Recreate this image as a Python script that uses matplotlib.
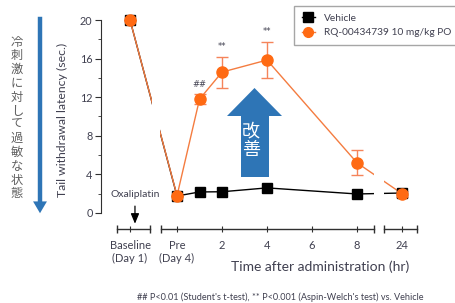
import numpy as np
import matplotlib
matplotlib.use("Agg")
import matplotlib.pyplot as plt
from matplotlib.lines import Line2D
from matplotlib.patches import Polygon

plt.rcParams['font.family'] = ['Lato', 'Noto Sans CJK JP', 'DejaVu Sans']

# Daten (x-Positionen: Baseline, Pre, 1, 2, 4, 8, 24 h; 24 h hinter Achsenbruch)
x_pos = [-2.09, 0, 1, 2, 4, 8, 10]
vehicle = [20, 1.76, 2.18, 2.2, 2.6, 1.97, 2.07]
rq = [20, 1.8, 11.8, 14.6, 15.85, 5.2, 2.0]
rq_err = [0, 0, 0.5, 1.6, 1.9, 1.3, 0.3]
signif = ['', '', '##', '**', '**', '', '']

tick_pos = [-2.09, 0, 2, 4, 6, 8, 10]
tick_lab = ['Baseline\n(Day 1)', 'Pre\n(Day 4)', '2', '4', '6', '8', '24']

W, H = 456, 303
fig = plt.figure(figsize=(W / 100, H / 100), dpi=100)


def px(x, y):
    # Pixel -> Figurkoordinaten
    return x / W, 1 - y / H


ax = fig.add_axes([101 / W, 1 - 229 / H, 319 / W, 209 / H])
ax.set_xlim(-3.38, 10.8)
ax.set_ylim(-1.66, 20)

grey = '#404050'
orange = '#ff6a13'
orange_line = '#f47c40'
blue = '#2e75b6'

# Linien
ax.plot(x_pos, vehicle, color='black', lw=1, zorder=2, clip_on=False)
ax.plot(x_pos, rq, color=orange_line, lw=1, zorder=2.05, clip_on=False)
# Achsenbrueche in den Linien
ax.axvspan(-1.12, -0.76, color='white', lw=0, zorder=2.2)
ax.axvspan(8.76, 9.2, color='white', lw=0, zorder=2.2)

ax.errorbar(x_pos, rq, yerr=rq_err, fmt='none', ecolor='#f5845a', elinewidth=1,
            capsize=4, capthick=1, zorder=2.5)
ax.plot(x_pos, vehicle, 's', color='black', ms=7.5, zorder=3, clip_on=False)
ax.plot(x_pos, rq, 'o', color=orange, ms=8, zorder=3.5, clip_on=False)

for x, y, e, s in zip(x_pos, rq, rq_err, signif):
    if s:
        ax.text(x, y + e + 0.6, s, ha='center', va='bottom', fontsize=6,
                color=grey, family='DejaVu Sans')

# Achsen
for s in ['top', 'right', 'bottom']:
    ax.spines[s].set_visible(False)
ax.spines['left'].set_bounds(0, 20)
ax.spines['left'].set_color('#303030')
ax.set_yticks(np.arange(0, 21, 4))
ax.set_yticks(np.arange(2, 20, 4), minor=True)
ax.tick_params(axis='y', which='major', length=4, labelsize=7.8, labelcolor=grey,
               color='#303030', pad=2)
ax.tick_params(axis='y', which='minor', length=2.5, color='#303030')
ax.set_xticks(tick_pos)
ax.set_xticklabels(tick_lab)
ax.tick_params(axis='x', direction='inout', length=4, labelsize=8, labelcolor=grey,
               color='#303030', pad=6)

# gebrochene x-Achse
for x0, x1 in [(-2.67, -1.2), (-0.71, 8.76), (9.2, 10.67)]:
    ax.plot([x0, x1], [-1.66, -1.66], color='#303030', lw=1, clip_on=False, zorder=4)
    ax.plot([x0, x1], [-1.66, -1.66], '|', color='#303030', ms=6, mew=1,
            clip_on=False, zorder=4)

ax.set_ylabel('Tail withdrawal latency (sec.)', fontsize=8.8, color=grey)
ax.yaxis.set_label_coords(-33 / 319, (229 - 120) / 209)
fig.text(*px(320, 267), 'Time after administration (hr)', ha='center', va='center',
         fontsize=10, color=grey)

# Oxaliplatin
ax.text(-2.97, 1.9, 'Oxaliplatin', ha='left', va='center', fontsize=7.5, color=grey)
ax.annotate('', xy=(-1.87, -1.4), xytext=(-1.87, 1.0),
            arrowprops=dict(arrowstyle='-|>,head_width=0.25,head_length=0.6',
                            color='black', lw=0.9), annotation_clip=False)

# Legende
handles = [Line2D([], [], color='black', marker='s', ms=7, lw=1),
           Line2D([], [], color=orange_line, marker='o', mfc=orange, mec=orange, ms=7, lw=1)]
fig.legend(handles, ['Vehicle', 'RQ-00434739 10 mg/kg PO'], loc='upper left',
           bbox_to_anchor=px(294, 6), fontsize=7.3, frameon=True, fancybox=False,
           edgecolor='#909090', handlelength=1.3, handletextpad=0.9, borderpad=0.75,
           labelspacing=0.55, labelcolor=grey, borderaxespad=0)

# linker Pfeil + japanischer Text
fig.patches.append(matplotlib.patches.FancyArrowPatch(
    px(40, 14), px(40, 216), transform=fig.transFigure,
    arrowstyle='simple,head_width=1.0,head_length=0.85,tail_width=0.32',
    mutation_scale=10, color=blue, lw=0))
fig.text(*px(17, 118), '\n'.join('冷刺激に対して過敏な状態'), ha='center', va='center',
         fontsize=8.8, color='#606060', family='Noto Sans CJK JP', linespacing=1.08)

# grosser Pfeil "改善"
arrow_px = [(241, 177), (241, 116), (227, 116), (254.5, 88), (282, 116), (269, 116), (269, 177)]
fig.patches.append(Polygon([px(x, y) for x, y in arrow_px], closed=True,
                           transform=fig.transFigure, color=blue, lw=0))
fig.text(*px(251, 141), '改\n善', ha='center', va='center', fontsize=13,
         color='white', family='Noto Sans CJK JP', linespacing=1.05)

# Fussnote
fig.text(*px(280, 297), "## P<0.01 (Student's t-test), ** P<0.001 (Aspin-Welch's test) vs. Vehicle",
         ha='center', va='center', fontsize=6.6, color=grey)

fig.savefig('out.png', dpi=100)
